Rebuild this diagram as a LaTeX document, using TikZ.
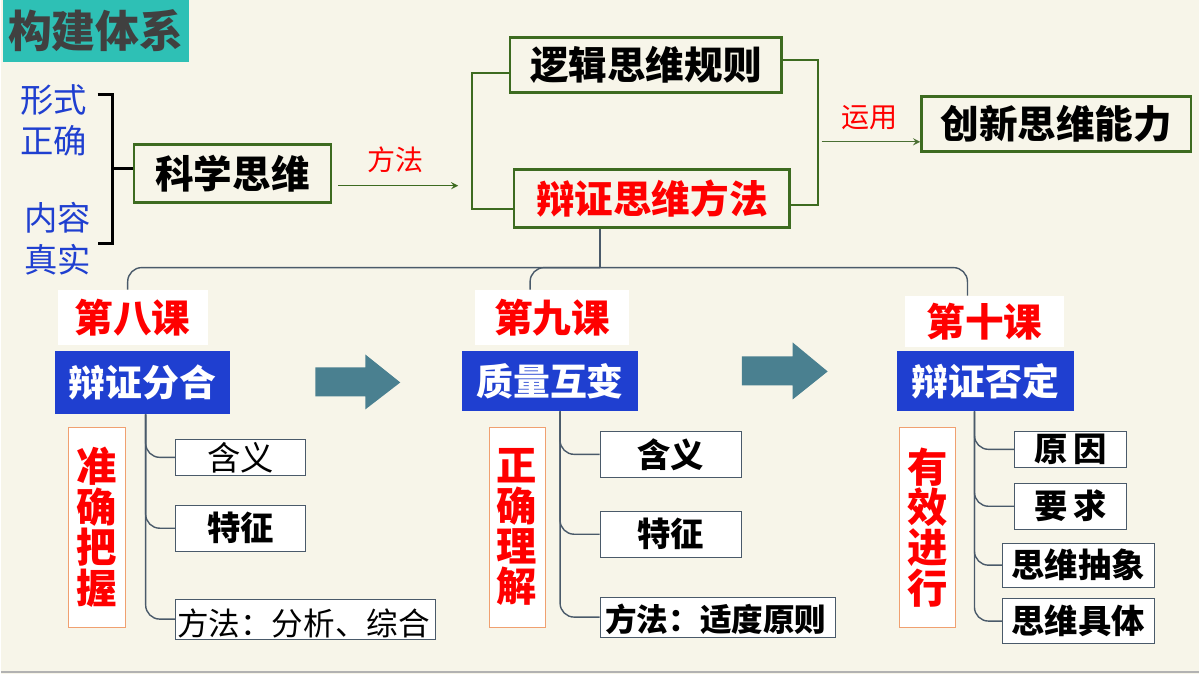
\documentclass[tikz,border=0pt]{standalone}
\usepackage{fontspec}
\setmainfont{Noto Sans CJK SC}
\usetikzlibrary{positioning,calc}
\definecolor{bgc}{HTML}{F7F5E9}
\definecolor{tealc}{HTML}{2EC0B5}
\definecolor{greenc}{HTML}{3D6B20}
\definecolor{bluec}{HTML}{1F3FD0}
\definecolor{treec}{HTML}{4A5A6A}
\definecolor{arrowc}{HTML}{4A8090}
\definecolor{orangec}{HTML}{F0A070}
\newcommand{\fs}[1]{\fontsize{#1}{#1}\selectfont}
\begin{document}
\begin{tikzpicture}[x=0.02cm,y=-0.02cm,
				gbox/.style={draw=greenc,line width=1.5pt,fill=bgc,inner sep=0pt,font=\bfseries\fs{22pt}},
				lesson/.style={fill=white,text=red,inner sep=0pt,font=\bfseries\fs{22pt}},
				topic/.style={fill=bluec,text=white,inner sep=0pt,font=\bfseries\fs{21pt}},
				vbox/.style={draw=orangec,fill=white,text=red,inner sep=0pt,align=center,font=\bfseries\fs{23pt}},
				sub/.style={draw=treec,fill=white,inner sep=0pt,font=\bfseries\fs{19pt}},
				tree/.style={draw=treec,line width=0.8pt,rounded corners=8pt},
				side/.style={text=bluec,font=\fs{19pt},inner sep=0pt},
				lbl/.style={text=red,font=\fs{16pt}}]
				\fill[bgc] (0,0) rectangle (1200,675);
				\draw[gray!60,line width=1pt] (0,673) -- (1200,673);
				% title
				\node (TITLE) [fill=tealc,text=black!75,font=\bfseries\fs{25pt},minimum width=186*0.02cm,minimum height=62*0.02cm,inner sep=0pt] at (95,31) {构建体系};
				% left part
				\node (XS1) [side] at (53,100) {形式};
				\node (XS2) [side] at (53,141) {正确};
				\node (NR1) [side] at (57,218) {内容};
				\node (NR2) [side] at (57,260) {真实};
				\node (KX) [gbox,minimum width=197*0.02cm,minimum height=58*0.02cm] at (232,174) {科学思维};
				\draw[line width=1.8pt] (97,95) -- (112,95) -- (112,244) -- (97,244);
				\draw[line width=1.8pt] (112,169) -- (KX.west |- 0,169);
				\coordinate (FF) at (458,186);
				\draw[-stealth,greenc,line width=0.8pt] (338,186) -- (FF);
				\node (FFL) [lbl] at (395,160) {方法};
				% logic and dialectics
				\node (LJ) [gbox,minimum width=272*0.02cm,minimum height=55*0.02cm] at (646,65) {逻辑思维规则};
				\node (BZ) [gbox,text=red,minimum width=276*0.02cm,minimum height=58*0.02cm] at (652,199) {辩证思维方法};
				\draw[greenc,line width=1pt] (LJ.west |- 0,73) -- (472,73) -- (472,209) -- (BZ.west |- 0,209);
				\draw[greenc,line width=1pt] (LJ.east |- 0,60) -- (818,60) -- (818,205) -- (BZ.east |- 0,205);
				\node (CX) [gbox,minimum width=270*0.02cm,minimum height=55*0.02cm] at (1057,124) {创新思维能力};
				\draw[-stealth,greenc!80!gray,line width=0.8pt] (822,142) -- (CX.west |- 0,142);
				\node (YYL) [lbl] at (870,118) {运用};
				% lessons
				\node (L8) [lesson,minimum width=150*0.02cm,minimum height=55*0.02cm] at (132,318) {第八课};
				\node (L9) [lesson,minimum width=155*0.02cm,minimum height=55*0.02cm] at (552,318) {第九课};
				\node (L10) [lesson,minimum width=160*0.02cm,minimum height=52*0.02cm] at (985,322) {第十课};
				\coordinate (HUB) at (600,268);
				\draw[tree] (BZ.south -| HUB) -- (HUB);
				\draw[tree] (HUB) -| (127,290);
				\draw[tree] (HUB) -| (530,290);
				\draw[tree] (HUB) -| (968,296);
				\node (T8) [topic,minimum width=175*0.02cm,minimum height=63*0.02cm] at (142,383) {辩证分合};
				\node (T9) [topic,minimum width=176*0.02cm,minimum height=60*0.02cm] at (550,382) {质量互变};
				\node (T10) [topic,minimum width=177*0.02cm,minimum height=60*0.02cm] at (986,382) {辩证否定};
				% block arrows
				\fill[arrowc] (315,368) -- (365,368) -- (365,355) -- (400,383) -- (365,410) -- (365,397) -- (315,397) -- cycle;
				\fill[arrowc] (742,357) -- (793,357) -- (793,343) -- (828,372) -- (793,400) -- (793,386) -- (742,386) -- cycle;
				% vertical labels
				\node (V8) [vbox,minimum width=57*0.02cm,minimum height=200*0.02cm] at (96,528) {准\\确\\把\\握};
				\node (V9) [vbox,minimum width=56*0.02cm,minimum height=200*0.02cm] at (517,528) {正\\确\\理\\解};
				\node (V10) [vbox,minimum width=56*0.02cm,minimum height=200*0.02cm] at (928,528) {有\\效\\进\\行};
				% sub boxes, lesson 8
				\node (H8) [sub,font=\fs{19pt},minimum width=130*0.02cm,minimum height=37*0.02cm] at (240,458) {含义};
				\node (C8) [sub,minimum width=130*0.02cm,minimum height=46*0.02cm] at (240,529) {特征};
				\node (M8) [sub,font=\fs{18pt},minimum width=261*0.02cm,minimum height=40*0.02cm] at (305,620) {};
				\node (M8T) at (303,624) [font=\fs{18pt}] {方法：分析、综合};
				\draw[tree] (145,415) |- (H8.west);
				\draw[tree] (145,415) |- (C8.west);
				\draw[tree] (145,415) |- (M8.west);
				% lesson 9
				\node (H9) [sub,minimum width=142*0.02cm,minimum height=46*0.02cm] at (671,455) {含义};
				\node (C9) [sub,minimum width=142*0.02cm,minimum height=46*0.02cm] at (671,535) {特征};
				\node (M9) [sub,minimum width=236*0.02cm,minimum height=40*0.02cm] at (718,618) {};
				\node (M9T) at (716,620) [font=\bfseries\fs{18pt}] {方法：适度原则};
				\draw[tree] (560,412) |- (H9.west);
				\draw[tree] (560,412) |- (C9.west);
				\draw[tree] (560,412) |- (M9.west);
				% lesson 10
				\node (R10) [sub,minimum width=112*0.02cm,minimum height=36*0.02cm] at (1071,450) {原\,因};
				\node (Q10) [sub,minimum width=112*0.02cm,minimum height=46*0.02cm] at (1071,507) {要\,求};
				\node (A10) [sub,minimum width=152*0.02cm,minimum height=44*0.02cm] at (1079,566) {思维抽象};
				\node (J10) [sub,minimum width=152*0.02cm,minimum height=45*0.02cm] at (1079,622) {思维具体};
				\draw[tree] (975,412) |- (R10.west);
				\draw[tree] (975,412) |- (Q10.west);
				\draw[tree] (975,412) |- (A10.west);
				\draw[tree] (975,412) |- (J10.west);
			\end{tikzpicture}
\end{document}
